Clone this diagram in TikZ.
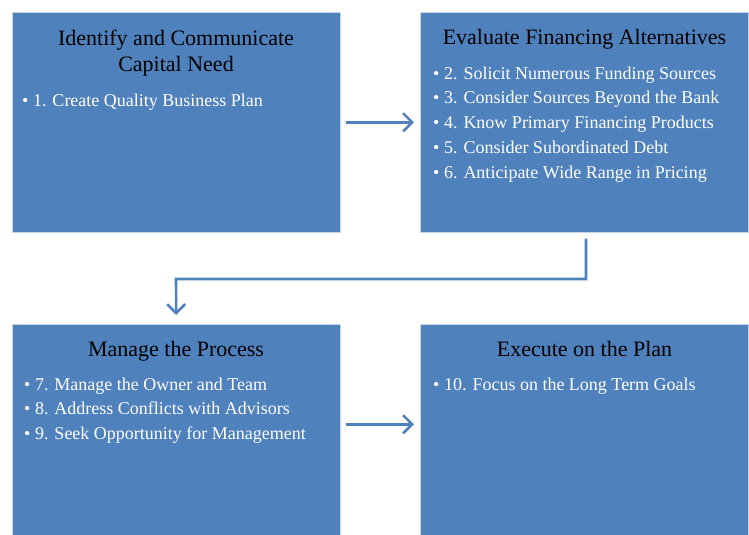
\documentclass[tikz,border=0pt]{standalone}
\usepackage{fontspec}
\setmainfont{Liberation Serif}
\usetikzlibrary{arrows.meta}
\definecolor{boxblue}{HTML}{4F81BD}
\definecolor{edgeblue}{HTML}{C6D5EA}
\tikzset{
  box/.style={draw=edgeblue, line width=0.6pt, fill=boxblue, minimum width=328pt, minimum height=#1, inner sep=0pt, anchor=north west},
  title/.style={text=black, font=\fontsize{22}{26.5}\selectfont, align=center, inner sep=0pt, anchor=base},
  bullets/.style={text=white, font=\fontsize{18}{24.8}\selectfont, align=left, inner sep=0pt, anchor=base west},
  flow/.style={draw=boxblue, line width=2.6pt, -{Straight Barb[length=9pt, width=18pt, line width=2.6pt]}}
}
\begin{document}
\begin{tikzpicture}[x=1pt,y=-1pt]
\useasboundingbox (0,0) rectangle (749,535);
\node[box=220pt] (b1) at (12,12) {};
\node[box=220pt] (b2) at (420,12) {};
\node[box=211pt] (b3) at (12,324) {};
\node[box=211pt] (b4) at (420,324) {};

% base anchor = baseline of the last line
\node[title] (t1) at (176,71.5) {Identify and Communicate\\Capital Need};
\node[bullets] (l1) at (22,106) {\textbullet\ 1. Create Quality Business Plan};

\node[title] (t2) at (584.5,45) {Evaluate Financing Alternatives};
\node[bullets] (l2) at (433,178.2) {\textbullet\ 2. Solicit Numerous Funding Sources\\\textbullet\ 3. Consider Sources Beyond the Bank\\\textbullet\ 4. Know Primary Financing Products\\\textbullet\ 5. Consider Subordinated Debt\\\textbullet\ 6. Anticipate Wide Range in Pricing};

\node[title] (t3) at (176,356) {Manage the Process};
\node[bullets] (l3) at (24,439.6) {\textbullet\ 7. Manage the Owner and Team\\\textbullet\ 8. Address Conflicts with Advisors\\\textbullet\ 9. Seek Opportunity for Management};

\node[title] (t4) at (584.5,356) {Execute on the Plan};
\node[bullets] (l4) at (433,390) {\textbullet\ 10. Focus on the Long Term Goals};

\coordinate (c1) at (586,279);
\coordinate (c2) at (176,279);
\draw[flow, shorten <=5pt, shorten >=6pt] (b1.east) -- (b2.west);
\draw[flow, shorten <=5pt, shorten >=6pt] ([yshift=5.5pt]b3.east) -- ([yshift=5.5pt]b4.west);
\draw[flow, shorten <=6pt, shorten >=9pt] (b2.south -| c1) -- (c1) -- (c2) -- (b3.north);
\end{tikzpicture}
\end{document}
